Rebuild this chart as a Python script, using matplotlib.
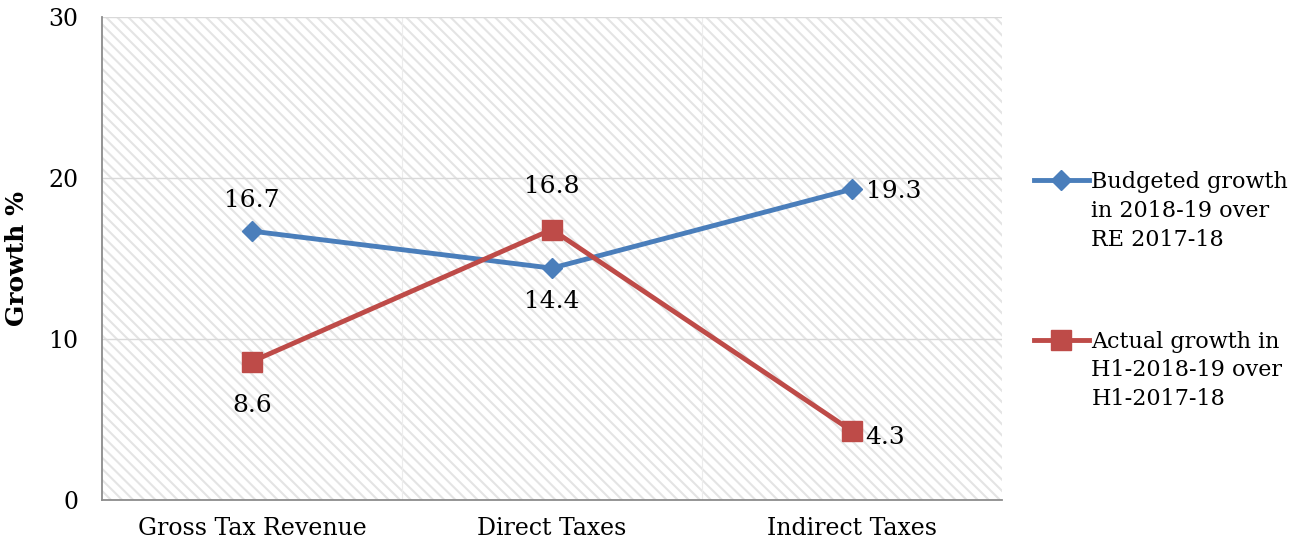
import matplotlib.pyplot as plt
import matplotlib
from matplotlib.patches import Rectangle
from matplotlib.legend_handler import HandlerLine2D

matplotlib.rcParams['font.family'] = ['DejaVu Serif']
matplotlib.rcParams['hatch.linewidth'] = 1.5

categories = ['Gross Tax Revenue', 'Direct Taxes', 'Indirect Taxes']
budgeted = [16.7, 14.4, 19.3]
actual = [8.6, 16.8, 4.3]
budgeted_label = 'Budgeted growth\nin 2018-19 over\nRE 2017-18'
actual_label = 'Actual growth in\nH1-2018-19 over\nH1-2017-18'

LEG_FS = 16
LEG_LS = 1.4


# legend handle sits next to the first line of a 3-line label
class TopLineHandler(HandlerLine2D):
    def create_artists(self, legend, orig_handle, xdescent, ydescent, width, height, fontsize, trans):
        arts = super().create_artists(legend, orig_handle, xdescent, ydescent, width, height, fontsize, trans)
        shift = fontsize * LEG_LS
        for a in arts:
            a.set_ydata([y + shift for y in a.get_ydata()])
        return arts


fig = plt.figure(figsize=(13.02, 5.46), dpi=100)
ax = fig.add_axes([0.0783, 0.0842, 0.691, 0.8847])

x = [i + 0.5 for i in range(len(categories))]

# hatched background
bg = Rectangle((0, 0), 1, 1, transform=ax.transAxes, facecolor='white', hatch='\\\\\\',
               edgecolor='#e4e4e4', lw=0, zorder=0)
ax.add_patch(bg)

ax.plot(x, budgeted, color='#4a7ebb', lw=3.5, marker='D', markersize=10, label=budgeted_label, zorder=3)
ax.plot(x, actual, color='#be4b48', lw=3.5, marker='s', markersize=14, label=actual_label, zorder=3)

# data labels
fs = 18
ax.annotate(f'{budgeted[0]}', (x[0], budgeted[0]), xytext=(0, 22), textcoords='offset points', ha='center', va='center', fontsize=fs)
ax.annotate(f'{budgeted[1]}', (x[1], budgeted[1]), xytext=(0, -24), textcoords='offset points', ha='center', va='center', fontsize=fs)
ax.annotate(f'{budgeted[2]}', (x[2], budgeted[2]), xytext=(10, -1.5), textcoords='offset points', ha='left', va='center', fontsize=fs)
ax.annotate(f'{actual[0]}', (x[0], actual[0]), xytext=(0, -32), textcoords='offset points', ha='center', va='center', fontsize=fs)
ax.annotate(f'{actual[1]}', (x[1], actual[1]), xytext=(0, 31), textcoords='offset points', ha='center', va='center', fontsize=fs)
ax.annotate(f'{actual[2]}', (x[2], actual[2]), xytext=(10, -5), textcoords='offset points', ha='left', va='center', fontsize=fs)

ax.set_xlim(0, 3)
ax.set_ylim(0, 30)
ax.set_yticks([0, 10, 20, 30])
ax.set_xticks(x)
ax.set_xticklabels(categories, fontsize=17)
ax.tick_params(axis='y', length=0, pad=17, labelsize=17)
ax.tick_params(axis='x', length=0, pad=12)

ax.grid(axis='y', color='#d9d9d9', lw=1)
for v in [1, 2]:
    ax.axvline(v, color='#ececec', lw=0.8, zorder=0.5)
ax.set_axisbelow(True)

for s in ['top', 'right']:
    ax.spines[s].set_visible(False)
for s in ['left', 'bottom']:
    ax.spines[s].set_color('#8c8c8c')
    ax.spines[s].set_linewidth(1.3)

ax.set_ylabel('Growth %', fontsize=18, fontweight='bold', labelpad=14)

h, l = ax.get_legend_handles_labels()
leg = fig.legend(h, l, loc='upper left', bbox_to_anchor=(0.787, 0.703), frameon=False, fontsize=LEG_FS,
                 handlelength=2.5, handletextpad=0.1, labelspacing=3.6, borderaxespad=0,
                 handler_map={h[0]: TopLineHandler(), h[1]: TopLineHandler()})
for t in leg.get_texts():
    t.set_linespacing(LEG_LS)

plt.savefig('out.png', dpi=100)
